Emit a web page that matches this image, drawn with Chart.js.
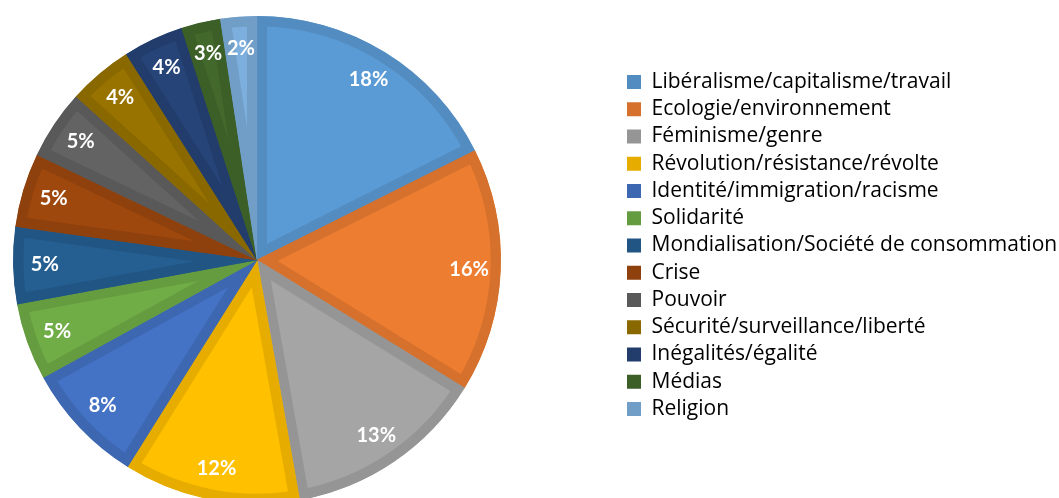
<!DOCTYPE html>
<html lang="fr">
<head>
  <meta charset="UTF-8" />
  <title>Thèmes</title>
  <script src="https://cdn.jsdelivr.net/npm/chart.js"></script>
  <style>
    html, body { margin: 0; padding: 0; background: #fff; overflow: hidden; }
    #wrap { position: relative; width: 1059px; height: 498px; overflow: hidden; }
    #pie { position: absolute; left: -110px; top: 0; }
  </style>
</head>
<body>
  <div id="wrap">
    <canvas id="pie" width="1172" height="498"></canvas>
  </div>

  <script>
    const themes = [
      'Libéralisme/capitalisme/travail',
      'Ecologie/environnement',
      'Féminisme/genre',
      'Révolution/résistance/révolte',
      'Identité/immigration/racisme',
      'Solidarité',
      'Mondialisation/Société de consommation',
      'Crise',
      'Pouvoir',
      'Sécurité/surveillance/liberté',
      'Inégalités/égalité',
      'Médias',
      'Religion'
    ];
    const shares = [17.6, 16.2, 13.4, 11.7, 8.1, 5.1, 5.1, 4.9, 4.6, 4.3, 4.0, 2.6, 2.4];

    const fills = ['#5B9BD5', '#ED7D31', '#A5A5A5', '#FFC000', '#4472C4', '#70AD47',
                   '#255E91', '#9E480E', '#636363', '#997300', '#264478', '#43682B', '#7CAFDD'];
    const edges = ['#528CC0', '#D5712C', '#959595', '#E6AD00', '#3D67B0', '#659C40',
                   '#215583', '#8E410D', '#595959', '#8A6800', '#223D6C', '#3C5E27', '#709EC7'];

    // legend box gets a fixed width so the pie and legend sit where they should
    const legendWidth = {
      id: 'legendWidth',
      beforeLayout(chart) {
        const lg = chart.legend;
        if (lg && !lg._fixed) {
          const fit = lg.fit;
          lg.fit = function () { fit.call(this); this.width = 440; };
          lg._fixed = true;
        }
      }
    };

    // percentage labels inside the slices
    const pctLabels = {
      id: 'pctLabels',
      afterDatasetsDraw(chart) {
        const ctx = chart.ctx;
        const total = shares.reduce((a, b) => a + b, 0);
        ctx.save();
        ctx.fillStyle = '#fff';
        ctx.font = 'bold 20px Lato';
        ctx.textAlign = 'center';
        ctx.textBaseline = 'middle';
        chart.getDatasetMeta(0).data.forEach((arc, i) => {
          const p = arc.getProps(['x', 'y', 'startAngle', 'endAngle', 'outerRadius'], true);
          const mid = (p.startAngle + p.endAngle) / 2;
          const r = p.outerRadius * 0.87;
          ctx.fillText(Math.round(shares[i] / total * 100) + '%', p.x + Math.cos(mid) * r, p.y + Math.sin(mid) * r);
        });
        ctx.restore();
      }
    };

    new Chart(document.getElementById('pie'), {
      type: 'pie',
      data: {
        labels: themes,
        datasets: [{
          data: shares,
          backgroundColor: fills,
          borderColor: edges,
          borderWidth: 10,
          borderAlign: 'inner',
          hoverOffset: 0,
          radius: 244,
          clip: false
        }]
      },
      options: {
        responsive: false,
        animation: false,
        layout: { autoPadding: false, padding: { left: 3.25, right: 1.25, top: 65.25, bottom: 43.25 } },
        plugins: {
          tooltip: { enabled: false },
          legend: {
            position: 'right',
            align: 'start',
            labels: {
              boxWidth: 14,
              boxHeight: 14,
              padding: 6.25,
              color: '#595959',
              font: { family: 'Open Sans', size: 21 },
              generateLabels: () => themes.map((t, i) => ({
                text: t, fillStyle: edges[i], strokeStyle: edges[i], lineWidth: 0, hidden: false, index: i
              }))
            }
          }
        }
      },
      plugins: [legendWidth, pctLabels]
    });
  </script>
</body>
</html>
